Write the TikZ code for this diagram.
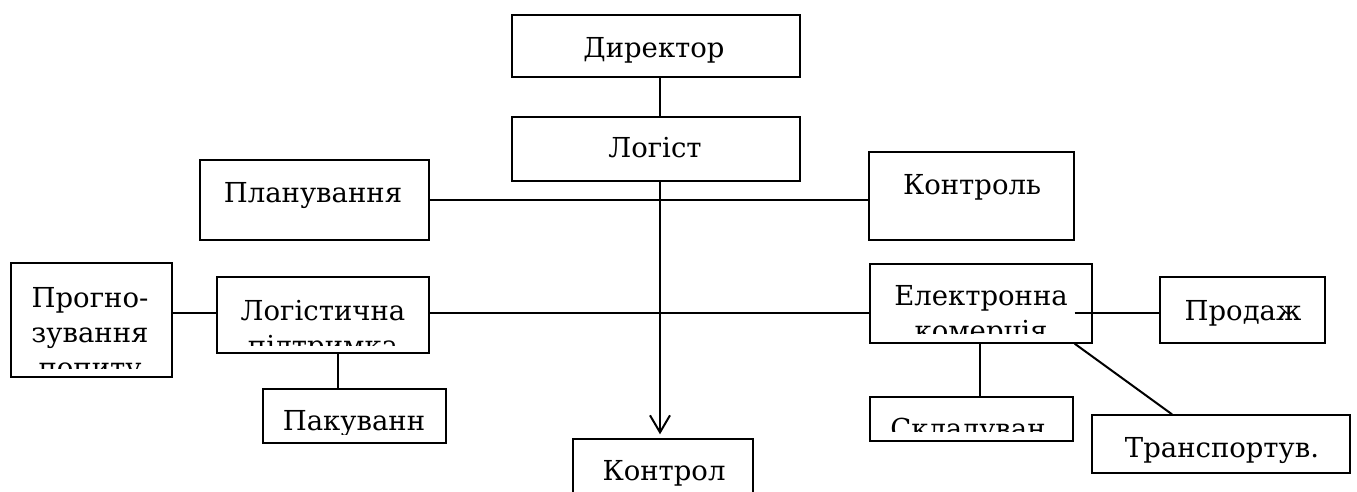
\documentclass[tikz,border=0pt]{standalone}
\usepackage{fontspec}
\setmainfont{DejaVu Serif}
\usetikzlibrary{positioning}
\usetikzlibrary{calc}
\usetikzlibrary{arrows.meta}

\begin{document}
\begin{tikzpicture}[x=1pt,y=-1pt,semithick,
					font=\fontsize{27.5}{35}\selectfont]
					\tikzstyle{box}=[draw,line width=1.4pt,inner sep=0pt]
					\tikzstyle{txt}=[inner sep=0pt,anchor=base,align=center]
					\tikzstyle{link}=[line width=2pt]
					
					\path[use as bounding box,fill=white] (0,0) rectangle (1357,491);
					
					\node[box,minimum width=288pt,minimum height=62pt]  (dir)     at (656,46)      {};
					\node[box,minimum width=288pt,minimum height=64pt]  (log)     at (656,149)     {};
					\node[box,minimum width=229pt,minimum height=80pt]  (plan)    at (314.5,200)   {};
					\node[box,minimum width=205pt,minimum height=88pt]  (kontr)   at (971.5,196)   {};
					\node[box,minimum width=161pt,minimum height=114pt] (prog)    at (91.5,320)    {};
					\node[box,minimum width=212pt,minimum height=76pt]  (logp)    at (323,315)     {};
					\node[box,minimum width=183pt,minimum height=54pt]  (pak)     at (354.5,416)   {};
					\node[box,minimum width=222pt,minimum height=79pt]  (ek)      at (981,303.5)   {};
					\node[box,minimum width=165pt,minimum height=66pt]  (prod)    at (1242.5,310)  {};
					\node[box,minimum width=203pt,minimum height=44pt]  (skl)     at (971.5,419)   {};
					\node[box,minimum width=258pt,minimum height=58pt]  (trans)   at (1221,444)    {};
					\node[box,minimum width=180pt,minimum height=72pt]  (kontrol) at (663,475)     {};
					
					\node[txt] (dir-t)     at (654,57)   {Директор};
					\node[txt] (log-t)     at (655,157)  {Логіст};
					\node[txt] (plan-t)    at (313,202)  {Планування};
					\node[txt] (kontr-t)   at (972,194)  {Контроль};
					\node[txt] (prod-t)    at (1243,320) {Продаж};
					\node[txt] (trans-t)   at (1222,457) {Транспортув.};
					\node[txt] (kontrol-t) at (664,480)  {Контрол};
					
					% text cut off by the box margin
					\begin{scope}
					\clip (prog.north west) rectangle ($(prog.south east)+(0,-9)$);
					\node[txt] (prog-t) at (90,377) {Прогно-\\зування\\попиту};
					\end{scope}
					\begin{scope}
					\clip (logp.north west) rectangle ($(logp.south east)+(0,-8)$);
					\node[txt] (logp-t) at (323,355) {Логістична\\підтримка};
					\end{scope}
					\begin{scope}
					\clip (ek.north west) rectangle ($(ek.south east)+(0,-10)$);
					\node[txt] (ek-t) at (981,340) {Електронна\\комерція};
					\end{scope}
					\begin{scope}
					\clip (skl.north west) rectangle ($(skl.south east)+(0,-10)$);
					\node[txt] (skl-t) at (968,438) {Складуван};
					\end{scope}
					\begin{scope}
					\clip (pak.north west) rectangle ($(pak.south east)+(0,-9)$);
					\node[txt] (pak-t) at (354,430) {Пакуванн};
					\end{scope}
					
					\coordinate (spine) at (660,0);
					\coordinate (mid)   at (0,313);
					\coordinate (pk)    at (338,0);
					\coordinate (sk)    at (980,0);
					
					\path[link] (dir.south -| spine) edge (log.north -| spine)
					(plan.east)          edge (plan.east -| kontr.west)
					(prog.east |- mid)   edge (logp.west |- mid)
					(logp.east |- mid)   edge (ek.west |- mid)
					($(ek.east |- mid)+(-18,0)$) edge (prod.west |- mid)
					(logp.south -| pk)   edge (pak.north -| pk)
					(ek.south -| sk)     edge (skl.north -| sk)
					($(ek.south east)+(-18,0)$) edge ($(trans.north)+(-49,0)$)
					;
					\draw[link,-{Straight Barb[length=17pt,width=20pt]},shorten >=4pt]
					(log.south -| spine) -- (kontrol.north -| spine);
					\end{tikzpicture}
\end{document}
